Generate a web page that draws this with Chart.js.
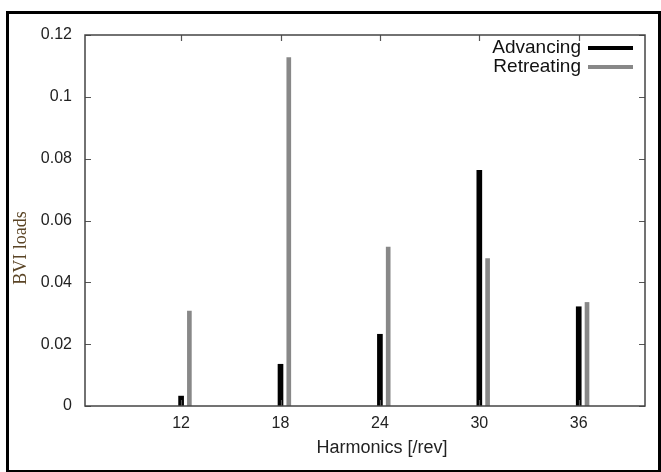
<!DOCTYPE html>
<html>
<head>
<meta charset="utf-8">
<script src="https://cdn.jsdelivr.net/npm/chart.js@4"></script>
<style>
  html, body { margin: 0; padding: 0; background: #fff; }
  #wrap { position: absolute; left: 0; top: 0; width: 661px; height: 472px; }
  #frame { position: absolute; left: 6px; top: 11px; width: 649px; height: 456px; border: 3px solid #000; pointer-events: none; }
</style>
</head>
<body>
<div id="wrap"><canvas id="c" width="661" height="472"></canvas></div>
<div id="frame"></div>
<script>
const categories = [12, 18, 24, 30, 36];
const advancing = [0.0032, 0.0135, 0.0232, 0.0762, 0.0321];
const retreating = [0.0307, 0.1127, 0.0514, 0.0477, 0.0335];
const yTicks = [0, 0.02, 0.04, 0.06, 0.08, 0.1, 0.12];
const yTickLabels = ['0', '0.02', '0.04', '0.06', '0.08', '0.1', '0.12'];
const seriesNames = ['Advancing', 'Retreating'];
const xTitle = 'Harmonics [/rev]';
const yTitle = 'BVI loads';

const PAIR_SHIFT = 0.5;   // gray bar sits just right of the black one
const SANS = '"Liberation Sans", Arial, sans-serif';

const framePlugin = {
  id: 'gnuFrame',
  afterDraw(chart) {
    const ctx = chart.ctx, a = chart.chartArea;
    const xs = chart.scales.x, ys = chart.scales.y;
    ctx.save();
    ctx.strokeStyle = '#555';
    ctx.lineWidth = 1.2;
    ctx.beginPath();
    xs.ticks.forEach(t => {
      const px = Math.round(xs.getPixelForValue(t.value)) + 0.5;
      ctx.moveTo(px, a.bottom); ctx.lineTo(px, a.bottom - 6);
      ctx.moveTo(px, a.top); ctx.lineTo(px, a.top + 6);
    });
    ys.ticks.forEach(t => {
      const py = Math.round(ys.getPixelForValue(t.value)) + 0.5;
      ctx.moveTo(a.left, py); ctx.lineTo(a.left + 6, py);
      ctx.moveTo(a.right, py); ctx.lineTo(a.right - 6, py);
    });
    ctx.stroke();
    ctx.strokeStyle = '#444';
    ctx.lineWidth = 1.5;
    ctx.strokeRect(a.left, a.top, a.right - a.left, a.bottom - a.top);

    // legend
    ctx.font = '19px ' + SANS;
    ctx.textAlign = 'right';
    ctx.textBaseline = 'middle';
    chart.data.datasets.forEach((ds, i) => {
      const y = a.top + 13 + i * 19;
      ctx.fillStyle = '#111';
      ctx.fillText(ds.label, a.right - 64, y);
      ctx.strokeStyle = ds.backgroundColor;
      ctx.lineWidth = 4;
      ctx.beginPath();
      ctx.moveTo(a.right - 57, y); ctx.lineTo(a.right - 12, y);
      ctx.stroke();
    });

    // axis titles
    ctx.fillStyle = '#222';
    ctx.textAlign = 'center';
    ctx.textBaseline = 'middle';
    ctx.font = '18px ' + SANS;
    ctx.fillText(xTitle, 382, 448);
    ctx.save();
    ctx.translate(21, 248);
    ctx.rotate(-Math.PI / 2);
    ctx.fillStyle = '#5b4526';
    ctx.font = '18px "Liberation Serif", "Times New Roman", serif';
    ctx.fillText(yTitle, 0, 0);
    ctx.restore();
    ctx.restore();
  }
};

new Chart(document.getElementById('c'), {
  type: 'bar',
  data: {
    datasets: [
      {
        label: seriesNames[0],
        data: categories.map((h, i) => ({ x: h, y: advancing[i] })),
        backgroundColor: '#000000',
        barThickness: 5
      },
      {
        label: seriesNames[1],
        data: categories.map((h, i) => ({ x: h + PAIR_SHIFT, y: retreating[i] })),
        backgroundColor: '#888888',
        barThickness: 4
      }
    ]
  },
  options: {
    responsive: false,
    animation: false,
    devicePixelRatio: 1,
    layout: { padding: { top: 35, right: 16, left: 0, bottom: 0 } },
    plugins: { legend: { display: false }, tooltip: { enabled: false } },
    datasets: { bar: { grouped: false } },
    scales: {
      x: {
        type: 'linear',
        min: 6.2, max: 40,
        offset: false,
        grid: { display: false, drawTicks: false },
        border: { display: false },
        afterBuildTicks: s => { s.ticks = categories.map(v => ({ value: v })); },
        afterFit: s => { s.height = 66; },
        ticks: { color: '#222', font: { family: SANS, size: 16 }, padding: 8, maxRotation: 0,
                 callback: v => String(v) }
      },
      y: {
        min: 0, max: 0.12,
        grid: { display: false, drawTicks: false },
        border: { display: false },
        afterBuildTicks: s => { s.ticks = yTicks.map(v => ({ value: v })); },
        afterFit: s => { s.width = 85; },
        ticks: { color: '#222', font: { family: SANS, size: 16 }, padding: 13,
                 callback: (v, i) => yTickLabels[yTicks.indexOf(v)] ?? String(v) }
      }
    }
  },
  plugins: [framePlugin]
});
</script>
</body>
</html>
